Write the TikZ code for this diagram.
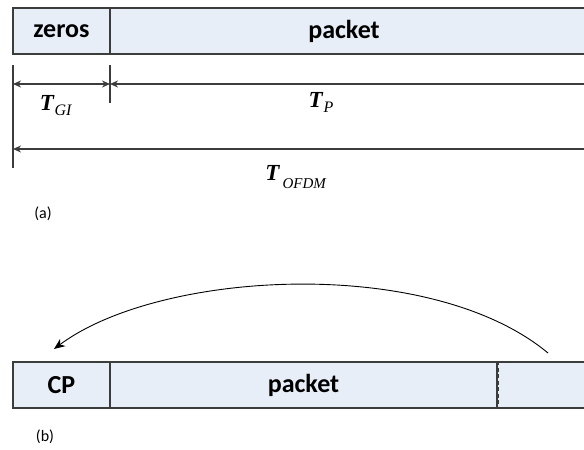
\documentclass[tikz,border=0pt]{standalone}
\usepackage{fontspec}
\setsansfont{Carlito}
\newfontfamily\tmsfont{Liberation Serif}
\usetikzlibrary{arrows.meta,positioning}
\definecolor{cellbg}{RGB}{231,238,248}
\definecolor{edge}{RGB}{60,60,60}
\tikzset{
  cell/.style={draw=edge,fill=cellbg,line width=1.8pt,minimum height=46pt,
               inner sep=0pt,font=\sffamily\bfseries\fontsize{26}{26}\selectfont},
  dim/.style={-{Stealth[length=8pt,width=7pt]},line width=1.5pt,draw=edge},
  tick/.style={line width=1.6pt,draw=edge},
  tlbl/.style={font=\tmsfont\fontsize{23}{23}\selectfont,inner sep=0pt},
  subcap/.style={font=\sffamily\fontsize{16}{16}\selectfont,inner sep=0pt},
}
\begin{document}
\begin{tikzpicture}[x=1pt,y=-1pt]
  \useasboundingbox (0,0) rectangle (584,450);
  \clip (0,0) rectangle (584,450);
  % (a) packet with zero guard
  \node[cell,minimum width=97pt]  (zeros)  at (61.5,31)  {zeros};
  \node[cell,minimum width=490pt] (packet) at (355,31)   {};
  \node[font=\sffamily\bfseries\fontsize{26}{26}\selectfont] (ptxt) at (344,31) {packet};

  \coordinate (l0) at (13,65);
  \coordinate (l1) at (13,168);
  \coordinate (g0) at (110,65);
  \coordinate (g1) at (110,103);
  \coordinate (a0) at (13,84);
  \coordinate (a1) at (110,84);
  \coordinate (b0) at (13,149);
  \coordinate (r1) at (600,84);
  \coordinate (r2) at (600,149);
  \draw[tick] (l0) -- (l1);
  \draw[tick] (g0) -- (g1);
  \draw[dim,{Stealth[length=8pt,width=7pt]}-{Stealth[length=8pt,width=7pt]}]
    (a0) -- (a1);
  \draw[dim] (r1) -- (a1);
  \draw[dim] (r2) -- (b0);

  \node[tlbl] (tgi)   at (56,106)  {\textbf{\textit{T}}\raisebox{-5pt}{\fontsize{16}{16}\selectfont\textit{GI}}};
  \node[tlbl] (tp)    at (321,102) {\textbf{\textit{T}}\raisebox{-5pt}{\fontsize{16}{16}\selectfont\textit{P}}};
  \node[tlbl] (tofdm) at (296,177) {\textbf{\textit{T}}\raisebox{-8pt}{\fontsize{15}{15}\selectfont\,\textit{OFDM}}};
  \node[subcap] (capa) at (43,214) {(a)};

  % (b) packet with cyclic prefix
  \node[cell,minimum width=97pt]  (cp)    at (61.5,385) {CP};
  \node[cell,minimum width=387pt] (pkt)   at (303.5,385) {packet};
  \node[cell,minimum width=100pt] (tail)  at (547,385)  {};
  \draw[line width=2pt,draw=edge,dash pattern=on 4pt off 2.5pt]
    (pkt.north east) -- (pkt.south east);
  \coordinate (src) at (548,353);
  \coordinate (dst) at (54,349);
  \draw[-{Stealth[length=11pt,width=9pt]},line width=0.9pt,draw=black]
    (src) .. controls (430,255) and (160,270) .. (dst);
  \node[subcap] (capb) at (45,437) {(b)};
\end{tikzpicture}
\end{document}
